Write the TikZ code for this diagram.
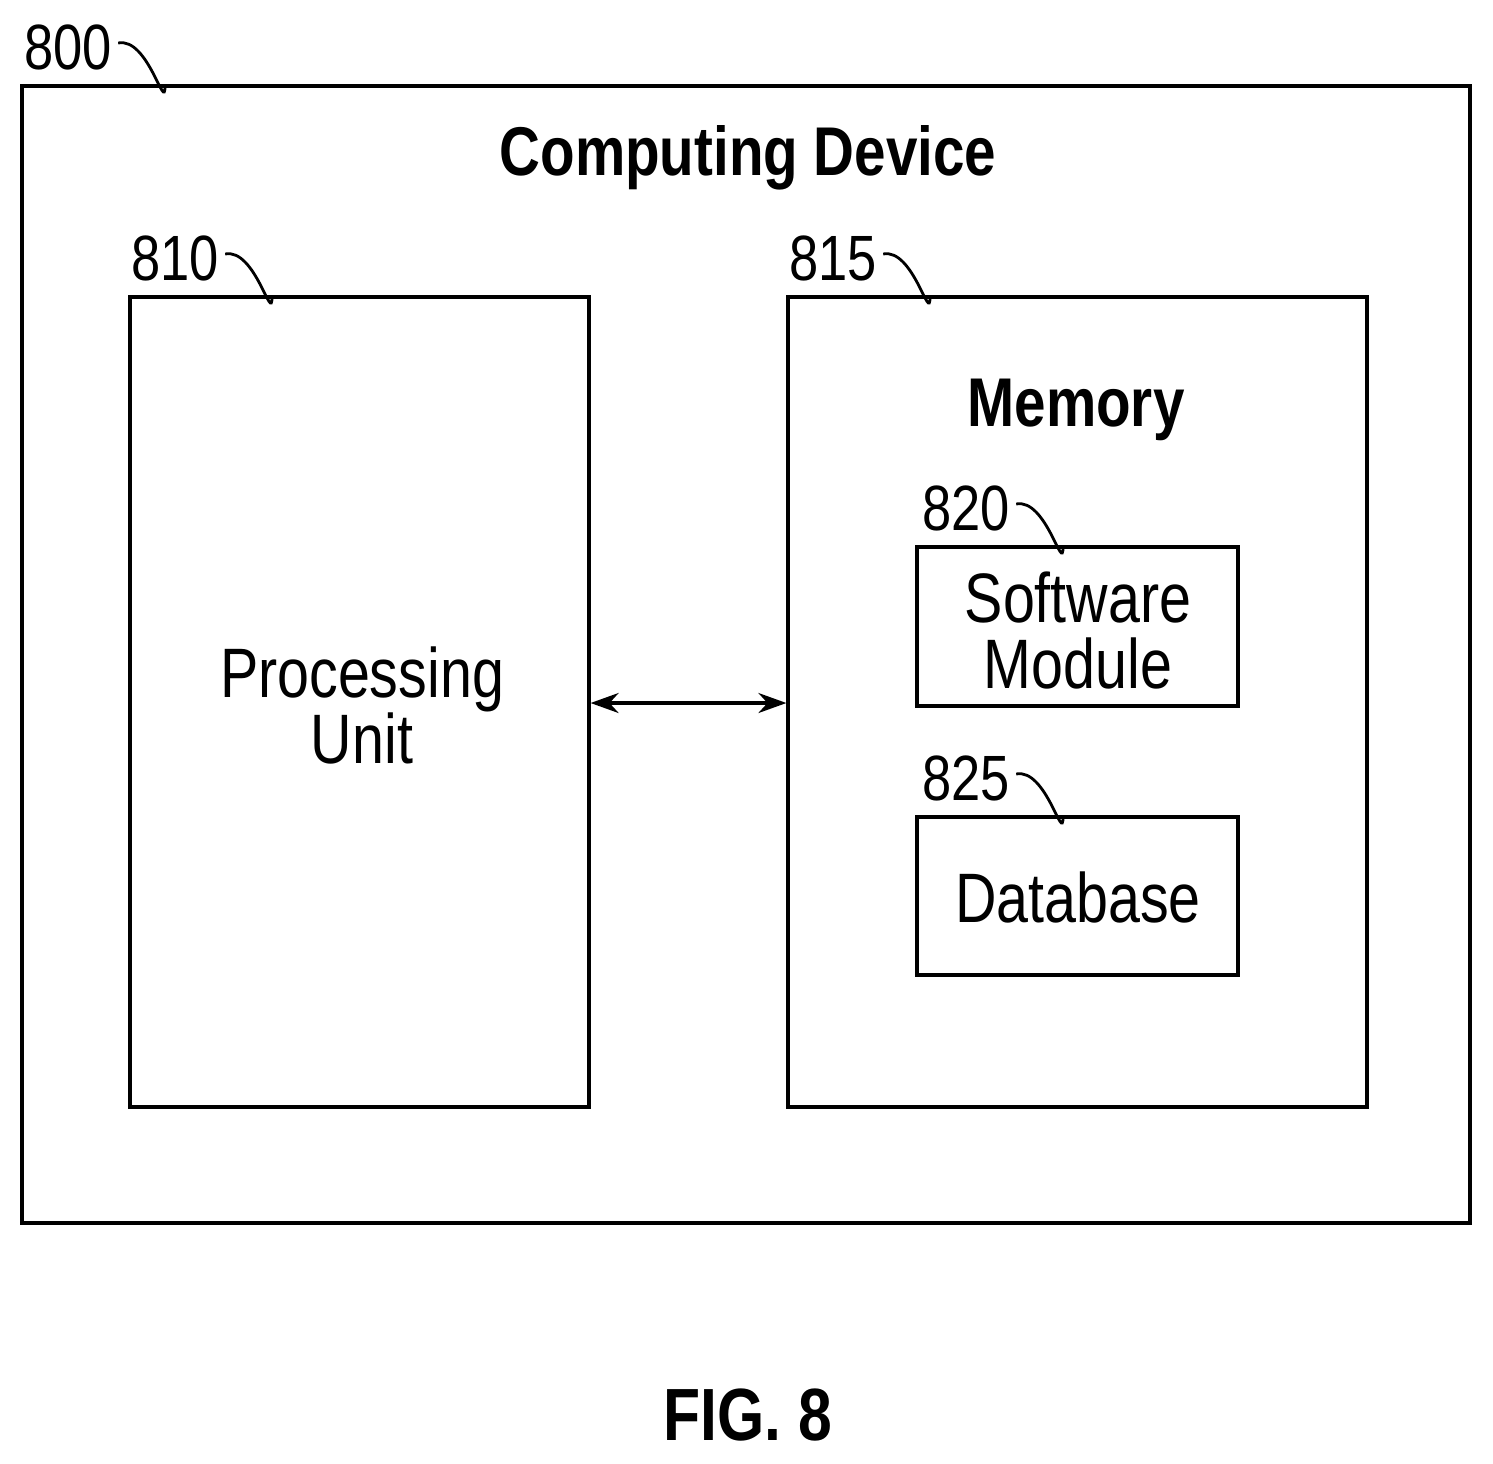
\documentclass[tikz,border=0pt]{standalone}
\usepackage{fontspec}
\usetikzlibrary{arrows.meta}
\setmainfont{Liberation Sans}[FakeStretch=0.82]
\begin{document}
\begin{tikzpicture}[x=0.5pt,y=-0.5pt,
  box/.style={draw,line width=1.6pt,inner sep=0pt},
  lbl/.style={font=\fontsize{32}{34}\selectfont,inner sep=0pt},
  ttl/.style={font=\fontsize{34.5}{38}\selectfont\bfseries,inner sep=0pt},
  txt/.style={font=\fontsize{35}{33}\selectfont,align=center,inner sep=0pt},
  lead/.style={line width=1.4pt}]
\useasboundingbox (0,0) rectangle (1493,1463);
\draw[box] (22,86) rectangle (1470,1223);
\node[box,minimum width=459*0.5pt,minimum height=810*0.5pt] (pu) at (359.5,702) {};
\node[box,minimum width=579*0.5pt,minimum height=810*0.5pt] (mem) at (1077.5,702) {};
\node[box,minimum width=321*0.5pt,minimum height=159*0.5pt] (sw) at (1077.5,626.5) {};
\node[box,minimum width=321*0.5pt,minimum height=158*0.5pt] (db) at (1077.5,896) {};
\node[ttl] (t1) at (748,158) {Computing Device};
\node[ttl] (t2) at (1076,410) {Memory};
\node[txt] (t3) at (362,705) {Processing\\Unit};
\node[txt] (t4) at (1078,630) {Software\\Module};
\node[txt] (t5) at (1078,897) {Database};
\node[inner sep=0pt,font=\fontsize{37}{40}\selectfont\bfseries] (fig) at (748,1415) {FIG. 8};
\draw[line width=1.6pt,<->,>={Stealth[length=14pt,width=10pt]}] (pu.east|-0,703) -- (mem.west|-0,703);
\node[lbl] (l800) at (68,47) {800};
\node[lbl] (l810) at (175,258) {810};
\node[lbl] (l815) at (833,258) {815};
\node[lbl] (l820) at (966,508) {820};
\node[lbl] (l825) at (966,778) {825};
\coordinate (c800) at (165,86);
\coordinate (c810) at (272,297);
\coordinate (c815) at (930,297);
\coordinate (c820) at (1063,547);
\coordinate (c825) at (1063,817);
\foreach \a/\b in {l800/c800,l810/c810,l815/c815,l820/c820,l825/c825}
  \draw[lead] ([xshift=3pt,yshift=2pt]\a.east) .. controls +(15pt,3pt) and +(0,-14pt) .. (\b);
\end{tikzpicture}
\end{document}
